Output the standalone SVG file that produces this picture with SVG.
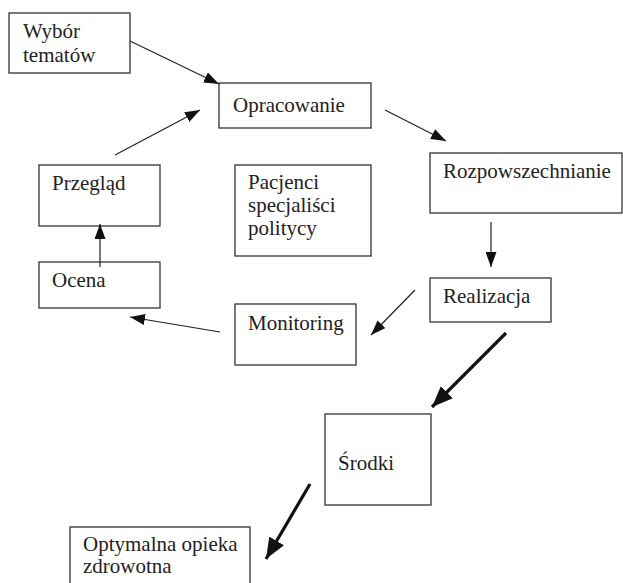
<svg xmlns="http://www.w3.org/2000/svg" width="623" height="583" viewBox="0 0 623 583">
<defs>
<style>
.box{fill:#fff;stroke:#333;stroke-width:1.3}
.thin{stroke:#222;stroke-width:1.2;fill:none}
.thick{stroke:#111;stroke-width:3.2;fill:none}
</style>
<marker id="ah" markerUnits="userSpaceOnUse" markerWidth="15" markerHeight="11" refX="15" refY="5.5" orient="auto"><path d="M0,0 L15,5.5 L0,11 z" fill="#111"/></marker>
<marker id="ahb" markerUnits="userSpaceOnUse" markerWidth="21" markerHeight="17" refX="21" refY="8.5" orient="auto"><path d="M0,0 L21,8.5 L0,17 z" fill="#111"/></marker>
</defs>
<rect width="623" height="583" fill="#fff"/>
<g font-family="Liberation Serif, DejaVu Serif, serif" font-size="21" fill="#222">
<g id="wybor"><rect class="box" x="9" y="13" width="121" height="60"/><text x="23" y="38">Wybór</text><text x="23" y="62">tematów</text></g>
<g id="opracowanie"><rect class="box" x="219" y="83" width="152" height="45"/><text x="233" y="112">Opracowanie</text></g>
<g id="rozpowszechnianie"><rect class="box" x="430" y="153" width="192" height="60"/><text x="443" y="178">Rozpowszechnianie</text></g>
<g id="pacjenci"><rect class="box" x="235" y="165" width="136" height="91"/><text x="248" y="189">Pacjenci</text><text x="248" y="212">specjaliści</text><text x="248" y="235">politycy</text></g>
<g id="przeglad"><rect class="box" x="39" y="165" width="121" height="61"/><text x="52" y="190">Przegląd</text></g>
<g id="ocena"><rect class="box" x="39" y="262" width="121" height="46"/><text x="52" y="287">Ocena</text></g>
<g id="monitoring"><rect class="box" x="235" y="304" width="121" height="61"/><text x="248" y="330">Monitoring</text></g>
<g id="realizacja"><rect class="box" x="430" y="278" width="121" height="44"/><text x="443" y="303">Realizacja</text></g>
<g id="srodki"><rect class="box" x="325" y="414" width="106" height="91"/><text x="338" y="470">Środki</text></g>
<g id="optymalna"><rect class="box" x="70" y="527" width="180" height="70"/><text x="83" y="551">Optymalna opieka</text><text x="83" y="573">zdrowotna</text></g>
</g>
<g id="connectors">
<line class="thin" x1="130" y1="41" x2="219" y2="84" marker-end="url(#ah)"/>
<line class="thin" x1="115" y1="155" x2="200" y2="110" marker-end="url(#ah)"/>
<line class="thin" x1="385" y1="110" x2="446" y2="141" marker-end="url(#ah)"/>
<line class="thin" x1="491" y1="222" x2="491" y2="267" marker-end="url(#ah)"/>
<line class="thin" x1="415" y1="290" x2="371" y2="335" marker-end="url(#ah)"/>
<line class="thin" x1="220" y1="332" x2="130" y2="317" marker-end="url(#ah)"/>
<line class="thin" x1="100" y1="267" x2="100" y2="224" marker-end="url(#ah)"/>
<line class="thick" x1="506" y1="333" x2="432" y2="407" marker-end="url(#ahb)"/>
<line class="thick" x1="310" y1="484" x2="266" y2="559" marker-end="url(#ahb)"/>
</g>
</svg>
